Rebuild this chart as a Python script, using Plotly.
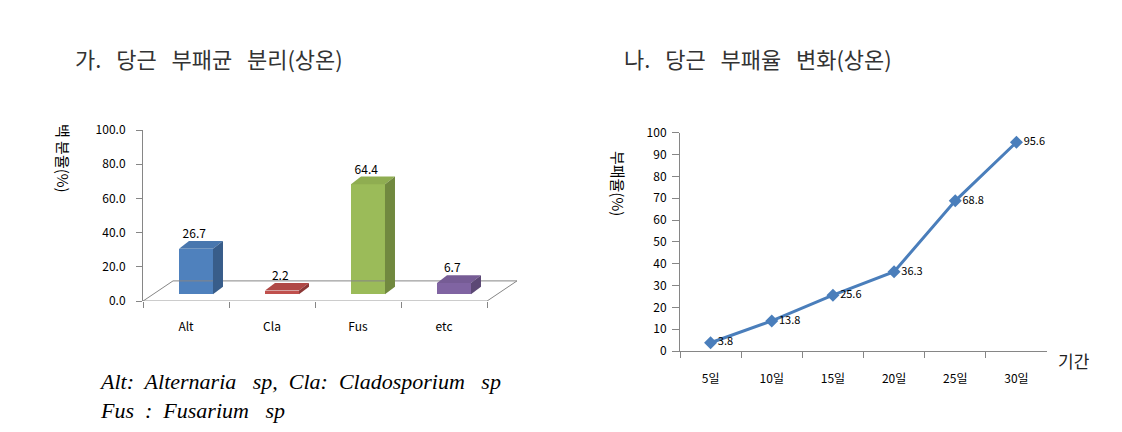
import plotly.graph_objects as go

# ---- data ----
fungi = ["Alt", "Cla", "Fus", "etc"]
fungi_pct = [26.7, 2.2, 64.4, 6.7]
days = ["5일", "10일", "15일", "20일", "25일", "30일"]
decay_pct = [3.8, 13.8, 25.6, 36.3, 68.8, 95.6]
left_ticks = [0, 20, 40, 60, 80, 100]

SP = "&nbsp;&nbsp;&nbsp;"
title_left = f"가.{SP}당근{SP}부패균{SP}분리(상온)"
title_right = f"나.{SP}당근{SP}부패율{SP}변화(상온)"
ytitle_left = "백 분율(%)"
ytitle_right = "부패율(%)"
xtitle_right = "기간"
caption = ("<i>Alt:&nbsp; Alternaria&nbsp;&nbsp; sp,&nbsp; Cla:&nbsp; Cladosporium&nbsp;&nbsp; sp</i><br>"
           "<i>Fus&nbsp; :&nbsp; Fusarium&nbsp;&nbsp; sp</i>")

# ---- style ----
W, H = 1122, 432
FONT = "Noto Sans CJK KR"
AX = "#868686"
front_c = ["#4F81BD", "#C0504D", "#9BBB59", "#8064A2"]
top_c = ["#4977AE", "#B04946", "#8FAD51", "#765C95"]
side_c = ["#385D8A", "#8C3836", "#71893F", "#5C4875"]

def px(x):
    return x / W

def py(y):
    return 1 - y / H

fig = go.Figure()

# left chart geometry (axis units)
XL0, XL1 = 143, 520
x_range = [-0.5, -0.5 + (XL1 - XL0) / 86]
ppu = 178 / 100  # px per y unit
FLOOR_DX, FLOOR_DY = 30 / 86, 21 / ppu
BASE, SHIFT, BW = 7 / ppu, 10 / 86, 0.395
DDX, DDY = 10 / 86, 8 / ppu

# floor
n = len(fungi)
fig.add_trace(go.Scatter(
    x=[-0.5, n - 0.5, n - 0.5 + FLOOR_DX, -0.5 + FLOOR_DX, -0.5],
    y=[0, 0, FLOOR_DY, FLOOR_DY, 0],
    mode="lines", line=dict(color=AX, width=1), hoverinfo="skip",
    showlegend=False, xaxis="x", yaxis="y"))

# front faces
fig.add_trace(go.Bar(
    x=[i + SHIFT for i in range(n)], y=fungi_pct, base=[BASE] * n,
    width=BW, marker=dict(color=front_c, line=dict(width=0)),
    showlegend=False, xaxis="x", yaxis="y"))

for i, v in enumerate(fungi_pct):
    x0 = i + SHIFT - BW / 2
    x1 = i + SHIFT + BW / 2
    top = BASE + v
    fig.add_trace(go.Scatter(
        x=[x0, x1, x1 + DDX, x0 + DDX, x0], y=[top, top, top + DDY, top + DDY, top],
        fill="toself", fillcolor=top_c[i], mode="lines", line=dict(width=0, color=top_c[i]),
        hoverinfo="skip", showlegend=False, xaxis="x", yaxis="y"))
    fig.add_trace(go.Scatter(
        x=[x1, x1, x1 + DDX, x1 + DDX, x1], y=[BASE, top, top + DDY, BASE + DDY, BASE],
        fill="toself", fillcolor=side_c[i], mode="lines", line=dict(width=0, color=side_c[i]),
        hoverinfo="skip", showlegend=False, xaxis="x", yaxis="y"))

fig.add_trace(go.Scatter(
    x=[i + SHIFT - 0.02 for i in range(n)], y=[BASE + v + DDY for v in fungi_pct],
    text=[f"{v:.1f}" for v in fungi_pct], mode="text", textposition="top center",
    textfont=dict(family=FONT, size=12, color="#000"), cliponaxis=False,
    hoverinfo="skip", showlegend=False, xaxis="x", yaxis="y"))

fig.add_trace(go.Scatter(
    x=days, y=decay_pct, mode="lines+markers+text",
    line=dict(color="#4A7EBB", width=3),
    marker=dict(symbol="diamond", size=10, color="#4A7EBB"),
    text=[f"{v:.1f}" for v in decay_pct], textposition="middle right",
    textfont=dict(family=FONT, size=11, color="#000"), cliponaxis=False,
    showlegend=False, xaxis="x2", yaxis="y2"))

tickfont = dict(family=FONT, size=12, color="#000")

fig.update_layout(
    width=W, height=H, margin=dict(l=0, r=0, t=0, b=0),
    paper_bgcolor="white", plot_bgcolor="white", bargap=0,
    xaxis=dict(domain=[px(XL0), px(XL1)], range=x_range, showgrid=False, zeroline=False,
               showline=False, tickmode="array", tickvals=list(range(n)), ticktext=fungi,
               ticks="", tickfont=tickfont, ticklabelstandoff=17,
               minor=dict(tickmode="array", tickvals=[i - 0.5 for i in range(n + 1)],
                          ticks="outside", ticklen=6, tickcolor=AX, showgrid=False),
               anchor="y", fixedrange=True),
    yaxis=dict(domain=[py(303), py(125)], range=[0, 100], showgrid=False, zeroline=False,
               showline=True, linecolor=AX, linewidth=1, tickmode="array",
               tickvals=left_ticks, ticktext=[f"{t:.1f}" for t in left_ticks],
               ticks="outside", ticklen=6, tickcolor=AX, tickfont=tickfont,
               ticklabelstandoff=8, anchor="x", fixedrange=True),
    xaxis2=dict(domain=[px(680), px(1047)], type="category", range=[-0.5, 5.5],
                showgrid=False, zeroline=False, showline=True, linecolor=AX,
                tickson="boundaries", ticks="outside", ticklen=6, tickcolor=AX,
                tickfont=tickfont, ticklabelstandoff=17, anchor="y2", fixedrange=True),
    yaxis2=dict(domain=[py(355), py(127.7)], range=[0, 100], dtick=10, showgrid=False,
                zeroline=False, showline=True, linecolor=AX, ticks="outside", ticklen=7,
                tickcolor=AX, tickfont=tickfont, ticklabelstandoff=3, anchor="x2",
                fixedrange=True),
    annotations=[
        dict(text=title_left, x=px(73), y=py(50), xref="paper", yref="paper",
             xanchor="left", yanchor="middle", showarrow=False,
             font=dict(family=FONT, size=22, color="#333")),
        dict(text=title_right, x=px(622), y=py(50), xref="paper", yref="paper",
             xanchor="left", yanchor="middle", showarrow=False,
             font=dict(family=FONT, size=22, color="#333")),
        dict(text=ytitle_left, x=px(63), y=py(154), xref="paper", yref="paper",
             xanchor="center", yanchor="middle",
             textangle=90, showarrow=False, font=dict(family=FONT, size=15, color="#000")),
        dict(text=ytitle_right, x=px(618), y=py(180), xref="paper", yref="paper",
             xanchor="center", yanchor="middle",
             textangle=90, showarrow=False, font=dict(family=FONT, size=15, color="#000")),
        dict(text=xtitle_right, x=px(1074), y=py(365), xref="paper", yref="paper",
             xanchor="center", yanchor="middle",
             showarrow=False, font=dict(family=FONT, size=17, color="#222")),
        dict(text=caption, x=px(97), y=py(402), xref="paper", yref="paper",
             xanchor="left", yanchor="middle", align="left", showarrow=False,
             font=dict(family="Liberation Serif", size=22, color="#000")),
    ],
)

fig.write_html("out.html")
